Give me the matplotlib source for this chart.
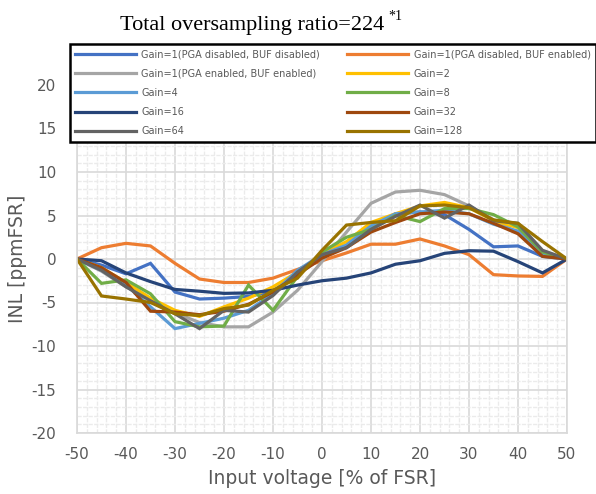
import matplotlib
matplotlib.use("Agg")
import matplotlib.pyplot as plt
import numpy as np

plt.rcParams["axes.unicode_minus"] = False

# input voltage [% of FSR]
x = [-50, -45, -40, -35, -30, -25, -20, -15, -10, -5, 0, 5, 10, 15, 20, 25, 30, 35, 40, 45, 50]

# INL [ppmFSR] per setting
gain1_pga_off_buf_off = [0, -0.7, -1.7, -0.5, -3.8, -4.6, -4.5, -4.3, -3.7, -1.6, 0.2, 1.5, 3.6, 5.2, 5.4, 5.1, 3.4, 1.4, 1.5, 0.3, 0]
gain1_pga_off_buf_on = [0, 1.3, 1.8, 1.5, -0.5, -2.3, -2.7, -2.7, -2.2, -1.2, -0.2, 0.7, 1.7, 1.7, 2.3, 1.5, 0.5, -1.8, -1.95, -2.0, 0]
gain1_pga_on_buf_on = [0, -1.4, -3.2, -4.6, -6.2, -7.3, -7.8, -7.8, -6.1, -3.6, -0.3, 3.1, 6.4, 7.7, 7.9, 7.4, 6.1, 4.5, 3.0, 0.9, 0]
gain2 = [0, -1.0, -2.7, -4.5, -5.9, -6.6, -5.5, -4.5, -3.2, -1.5, 0.6, 2.0, 4.2, 5.2, 6.1, 6.5, 5.9, 4.4, 3.6, 0.7, 0]
gain4 = [0, -1.3, -3.0, -5.5, -8.0, -7.4, -6.8, -5.9, -4.0, -1.3, 0.5, 1.6, 3.8, 5.2, 5.4, 5.6, 5.2, 4.0, 3.2, 0.6, 0]
gain8 = [0, -2.8, -2.4, -4.0, -7.2, -7.8, -7.7, -3.0, -5.9, -2.0, 0.8, 2.5, 3.4, 5.0, 4.3, 5.8, 5.8, 5.1, 3.7, 0.8, 0]
gain16 = [0, -0.2, -1.6, -2.6, -3.5, -3.7, -3.95, -3.9, -3.6, -3.0, -2.5, -2.2, -1.6, -0.6, -0.2, 0.65, 0.95, 0.9, -0.3, -1.6, 0]
gain32 = [0, -1.0, -2.7, -6.0, -6.1, -6.4, -6.0, -5.2, -3.8, -1.8, 0.1, 1.3, 3.1, 4.2, 5.2, 5.4, 5.2, 4.1, 2.9, 0.3, 0]
gain64 = [0, -1.3, -3.2, -4.8, -6.3, -8.0, -5.9, -6.1, -4.2, -1.5, 0.5, 1.3, 3.4, 4.9, 6.2, 4.7, 6.2, 4.4, 4.1, 1.0, 0]
gain128 = [0, -4.25, -4.6, -5.0, -6.3, -6.5, -5.7, -5.3, -3.6, -2.2, 1.0, 3.9, 4.2, 4.4, 6.1, 6.2, 5.9, 4.5, 4.1, 2.0, 0]

labels = ["Gain=1(PGA disabled, BUF disabled)", "Gain=1(PGA disabled, BUF enabled)",
          "Gain=1(PGA enabled, BUF enabled)", "Gain=2", "Gain=4", "Gain=8",
          "Gain=16", "Gain=32", "Gain=64", "Gain=128"]
series = [gain1_pga_off_buf_off, gain1_pga_off_buf_on, gain1_pga_on_buf_on, gain2, gain4,
          gain8, gain16, gain32, gain64, gain128]
colors = ["#4472C4", "#ED7D31", "#A5A5A5", "#FFC000", "#5B9BD5",
          "#70AD47", "#264478", "#9E480E", "#636363", "#997300"]

fig = plt.figure(figsize=(5.96, 4.94), dpi=100)
ax = fig.add_axes([77/596, 1-433/494, 490/596, 348/494])

lines = []
for vals, lab, c in zip(series, labels, colors):
    ln, = ax.plot(x, vals, color=c, lw=2.3, label=lab, solid_joinstyle="miter")
    lines.append(ln)

ax.set_xlim(-50, 50)
ax.set_ylim(-20, 20)
ax.set_xticks(np.arange(-50, 51, 10))
ax.set_yticks(np.arange(-20, 21, 5))
ax.set_xticks(np.arange(-50, 51, 2), minor=True)
ax.set_yticks(np.arange(-20, 21, 1), minor=True)
ax.grid(which="minor", color="#EBEBEB", lw=1.0, ls=(0, (3, 1)))
ax.grid(which="major", color="#D9D9D9", lw=1.2)
ax.set_axisbelow(True)
for s in ax.spines.values():
    s.set_color("#D9D9D9")
    s.set_linewidth(1.2)
ax.tick_params(which="both", length=0)
ax.tick_params(axis="y", pad=15, labelsize=11, labelcolor="#595959")
ax.tick_params(axis="x", pad=10, labelsize=11, labelcolor="#595959")

ax.set_xlabel("Input voltage [% of FSR]", fontsize=13.5, color="#595959", labelpad=5)
ax.set_ylabel("INL [ppmFSR]", fontsize=13.5, color="#595959", labelpad=3)

# row-wise legend order like the original
order = [0, 2, 4, 6, 8, 1, 3, 5, 7, 9]
leg = fig.legend([lines[i] for i in order], [labels[i] for i in order],
                 loc="upper left", ncol=2, bbox_to_anchor=(70/596, 1-44/494),
                 fontsize=7, handlelength=6.2, handletextpad=0.6, labelspacing=0.95,
                 columnspacing=2.8, borderpad=0.55, borderaxespad=0, fancybox=False,
                 framealpha=1, edgecolor="black")
leg.get_frame().set_linewidth(1.8)
for t in leg.get_texts():
    t.set_color("#595959")

fig.text(120/596, 1-30/494, "Total oversampling ratio=224", family="Liberation Serif",
         fontsize=16, ha="left", va="baseline")
fig.text(388/596, 1-20/494, "*1", family="Liberation Serif", fontsize=10,
         ha="left", va="baseline")

fig.savefig("out.png", dpi=100)
